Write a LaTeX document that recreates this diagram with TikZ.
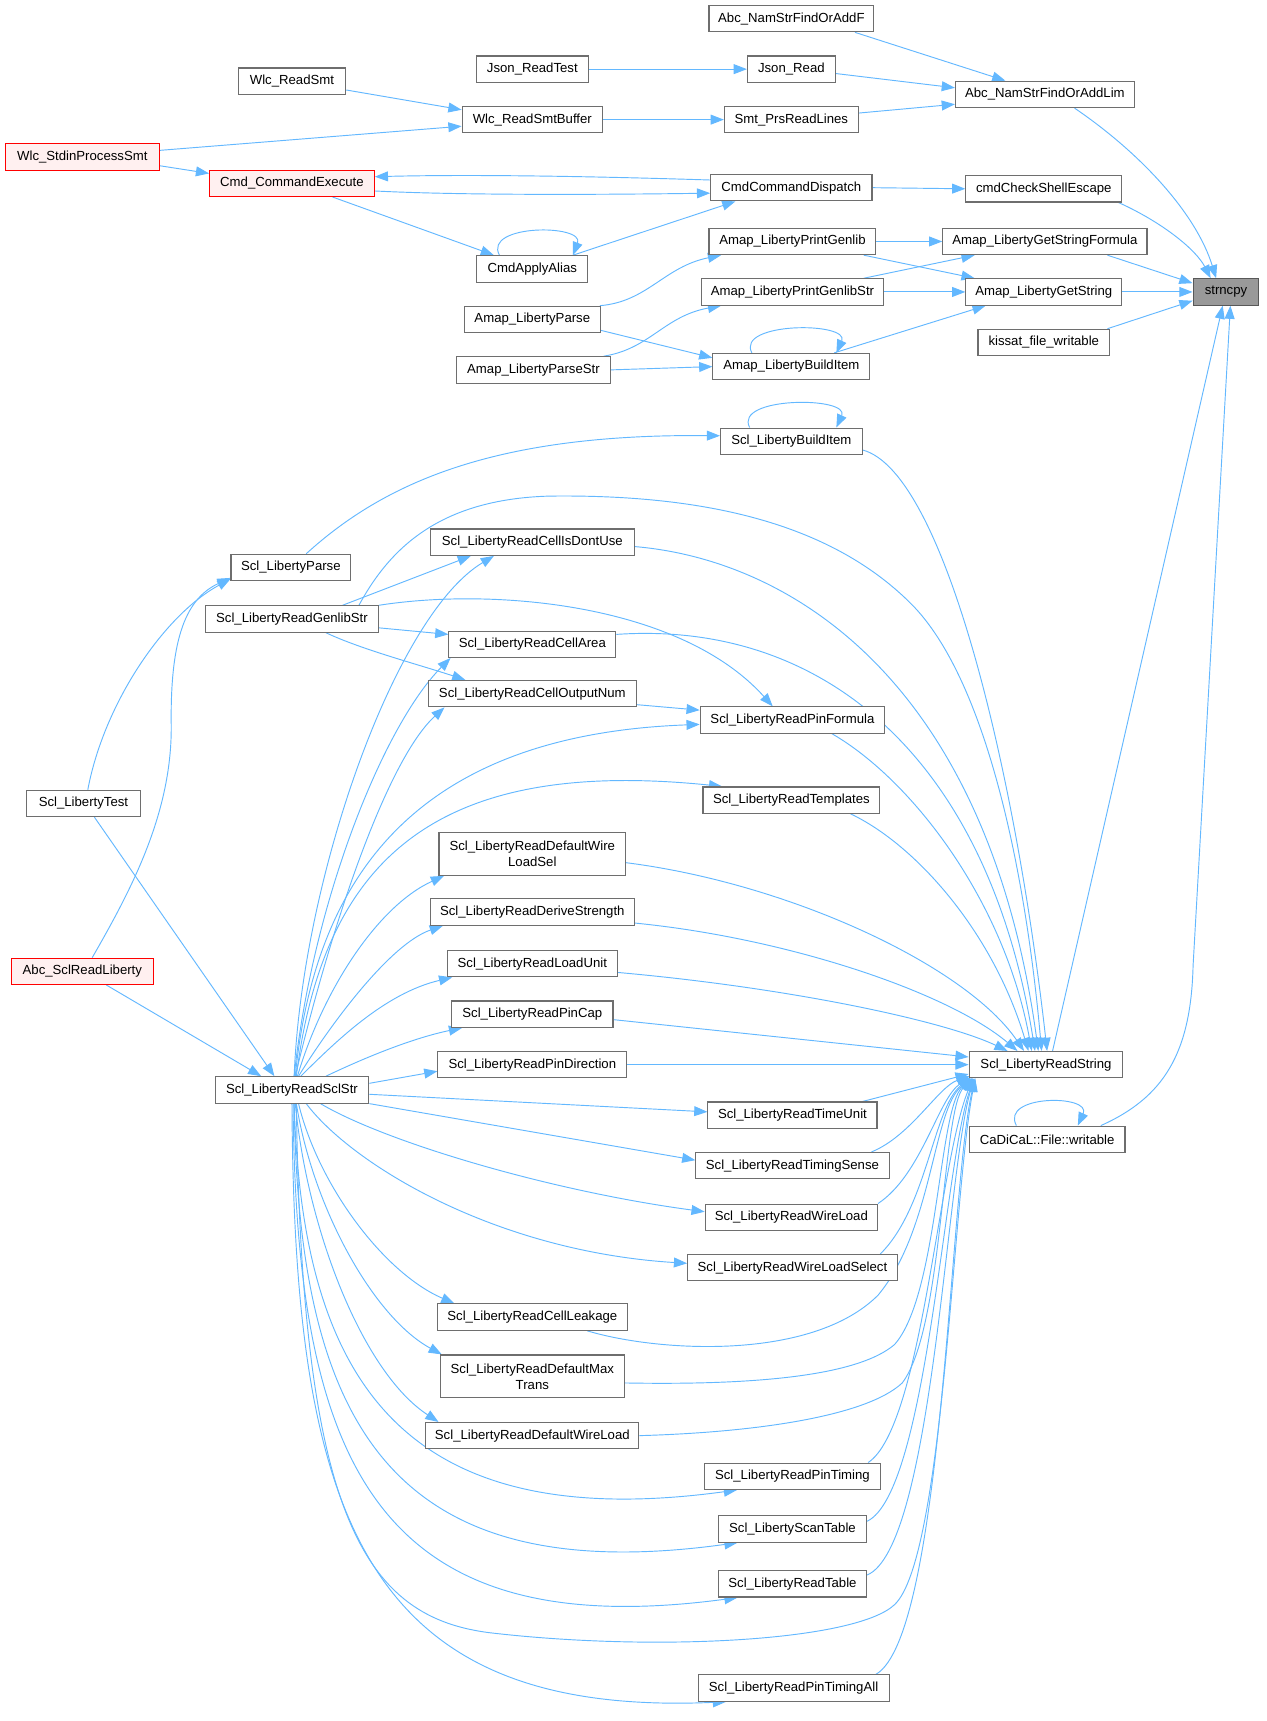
\documentclass[tikz,border=0pt]{standalone}
\usepackage{fontspec}
\setmainfont{Liberation Sans}
\usetikzlibrary{arrows.meta}
\definecolor{edgeblue}{HTML}{63B8FF}
\definecolor{boxgray}{HTML}{6E6E6E}
\definecolor{redfill}{HTML}{FFF0F0}
\definecolor{grayfill}{HTML}{999999}
\pgfdeclarelayer{bg}
\pgfdeclarelayer{paper}
\pgfsetlayers{paper,bg,main}
\begin{document}
\begin{tikzpicture}[x=1pt,y=-1pt,
  nd/.style={draw=boxgray,fill=white,line width=1pt,inner sep=0pt,minimum height=24pt,align=center,font=\fontsize{12}{14.5}\selectfont},
  rednd/.style={nd,draw=red,fill=redfill},
  graynd/.style={nd,draw=boxgray!80!black,fill=grayfill},
  tall/.style={minimum height=39pt},
  e/.style={draw=edgeblue,line width=0.85pt,-{Triangle[length=12pt,width=9pt]}}]
\useasboundingbox (0,0) rectangle (1154,1568);
\begin{pgfonlayer}{paper}
\fill[white] (0,0) rectangle (1154,1568);
\end{pgfonlayer}

% ---------- nodes ----------
\node[nd,minimum width=150pt] (nsF) at (721,17) {Abc\_NamStrFindOrAddF};
\node[nd,minimum width=102pt] (jrt) at (485,63) {Json\_ReadTest};
\node[nd,minimum width=80pt] (jr) at (721,63) {Json\_Read};
\node[nd,minimum width=98pt] (wrs) at (266,74) {Wlc\_ReadSmt};
\node[nd,minimum width=163pt] (nsL) at (952,86) {Abc\_NamStrFindOrAddLim};
\node[nd,minimum width=128pt] (wrsb) at (485,109) {Wlc\_ReadSmtBuffer};
\node[nd,minimum width=122pt] (smt) at (721,109) {Smt\_PrsReadLines};
\node[rednd,minimum width=140pt] (wsp) at (75,143) {Wlc\_StdinProcessSmt};
\node[rednd,minimum width=150pt] (cce) at (266,167) {Cmd\_CommandExecute};
\node[nd,minimum width=147pt] (ccd) at (721,171) {CmdCommandDispatch};
\node[nd,minimum width=142pt] (ccse) at (951,172) {cmdCheckShellEscape};
\node[nd,minimum width=152pt] (apg) at (722,220) {Amap\_LibertyPrintGenlib};
\node[nd,minimum width=186pt] (agsf) at (952,220) {Amap\_LibertyGetStringFormula};
\node[nd,minimum width=101pt] (caa) at (485,245) {CmdApplyAlias};
\node[graynd,minimum width=60pt] (strncpy) at (1117,266) {strncpy};
\node[nd,minimum width=166pt] (apgs) at (722,266) {Amap\_LibertyPrintGenlibStr};
\node[nd,minimum width=142pt] (ags) at (951,266) {Amap\_LibertyGetString};
\node[nd,minimum width=124pt] (alp) at (485,291) {Amap\_LibertyParse};
\node[nd,minimum width=120pt] (kfw) at (951,312) {kissat\_file\_writable};
\node[nd,minimum width=143pt] (abi) at (721,334) {Amap\_LibertyBuildItem};
\node[nd,minimum width=140pt] (alps) at (486,337) {Amap\_LibertyParseStr};
\node[nd,minimum width=129pt] (sbi) at (721,402) {Scl\_LibertyBuildItem};
\node[nd,minimum width=186pt] (sdu) at (485,494) {Scl\_LibertyReadCellIsDontUse};
\node[nd,minimum width=109pt] (spa) at (265,517) {Scl\_LibertyParse};
\node[nd,minimum width=157pt] (sgs) at (266,564) {Scl\_LibertyReadGenlibStr};
\node[nd,minimum width=152pt] (sca) at (485,587) {Scl\_LibertyReadCellArea};
\node[nd,minimum width=189pt] (son) at (485,632) {Scl\_LibertyReadCellOutputNum};
\node[nd,minimum width=168pt] (spf) at (722,656) {Scl\_LibertyReadPinFormula};
\node[nd,minimum width=161pt] (stp) at (721,729) {Scl\_LibertyReadTemplates};
\node[nd,minimum width=104pt] (stest) at (76,732) {Scl\_LibertyTest};
\node[nd,tall,minimum width=170pt] (sdwls) at (485,778) {Scl\_LibertyReadDefaultWire\\LoadSel};
\node[nd,minimum width=186pt] (sds) at (485,831) {Scl\_LibertyReadDeriveStrength};
\node[nd,minimum width=155pt] (slu) at (485,878) {Scl\_LibertyReadLoadUnit};
\node[nd,minimum width=147pt] (spc) at (485,924) {Scl\_LibertyReadPinCap};
\node[nd,minimum width=172pt] (spd) at (485,970) {Scl\_LibertyReadPinDirection};
\node[rednd,minimum width=129pt] (asrl) at (75,885) {Abc\_SclReadLiberty};
\node[nd,minimum width=140pt] (sss) at (266,993) {Scl\_LibertyReadSclStr};
\node[nd,minimum width=140pt] (srs) at (953,970) {Scl\_LibertyReadString};
\node[nd,minimum width=154pt] (stu) at (722,1016) {Scl\_LibertyReadTimeUnit};
\node[nd,minimum width=142pt] (cfw) at (954,1038) {CaDiCaL::File::writable};
\node[nd,minimum width=176pt] (sts) at (722,1062) {Scl\_LibertyReadTimingSense};
\node[nd,minimum width=157pt] (swl) at (721,1109) {Scl\_LibertyReadWireLoad};
\node[nd,minimum width=191pt] (swls) at (722,1155) {Scl\_LibertyReadWireLoadSelect};
\node[nd,minimum width=173pt] (scl) at (485,1200) {Scl\_LibertyReadCellLeakage};
\node[nd,tall,minimum width=168pt] (sdmt) at (485,1254) {Scl\_LibertyReadDefaultMax\\Trans};
\node[nd,minimum width=194pt] (sdwl) at (485,1308) {Scl\_LibertyReadDefaultWireLoad};
\node[nd,minimum width=160pt] (spt) at (722,1345) {Scl\_LibertyReadPinTiming};
\node[nd,minimum width=135pt] (sst) at (722,1393) {Scl\_LibertyScanTable};
\node[nd,minimum width=135pt] (srt) at (722,1443) {Scl\_LibertyReadTable};
\node[nd,minimum width=174pt] (spta) at (723,1538) {Scl\_LibertyReadPinTimingAll};

% ---------- edges ----------
\begin{pgfonlayer}{bg}
% top block
\draw[e] ([xshift=58pt]nsF.south) -- ([xshift=-36pt]nsL.north);
\draw[e] (jrt.east) -- (jr.west);
\draw[e] ([yshift=-4pt]jr.east) -- ([yshift=6pt]nsL.west);
\draw[e] ([yshift=-8pt]wrs.east) -- ([yshift=9pt]wrsb.west);
\draw[e] ([yshift=6pt]wsp.east) -- ([yshift=-6pt]wrsb.west);
\draw[e] (wrsb.east) -- (smt.west);
\draw[e] ([yshift=6pt]smt.east) -- ([yshift=-9pt]nsL.west);
\draw[e] ([xshift=27pt]nsL.south) .. controls (1040,140) and (1090,195) .. ([xshift=-9pt]strncpy.north);
\draw[e] ([yshift=-8pt]wsp.east) -- ([yshift=9pt]cce.west);
\draw[e] ([yshift=7pt]ccd.west) .. controls (520,160) and (420,159) .. ([yshift=6pt]cce.east);
\draw[e] ([yshift=-7pt]cce.east) .. controls (400,177) and (500,178) .. ([yshift=-5pt]ccd.west);
\draw[e] ([xshift=37pt]cce.south) -- ([xshift=-35pt]caa.north);
\draw[e] ([xshift=37pt]caa.north) -- ([xshift=-51pt]ccd.south);
\draw[e] ([xshift=-30pt]caa.north) .. controls (440,204) and (533,204) .. ([xshift=37pt]caa.north);
\draw[e] (ccd.east) -- (ccse.west);
\draw[e] ([xshift=68pt]ccse.south) .. controls (1060,203) and (1090,228) .. ([xshift=-14pt]strncpy.north);
\draw[e] (apg.east) -- (agsf.west);
\draw[e] ([xshift=65pt]apg.south) -- ([xshift=-63pt]ags.north);
\draw[e] ([xshift=65pt]apgs.north) -- ([xshift=-64pt]agsf.south);
\draw[e] (apgs.east) -- (ags.west);
\draw[e] ([xshift=57pt]agsf.south) -- ([yshift=8pt]strncpy.west);
\draw[e] (ags.east) -- (strncpy.west);
\draw[e] ([xshift=58pt]kfw.north) -- ([yshift=-8pt]strncpy.west);
\draw[e] ([xshift=-1pt]alp.north east) .. controls (590,275) and (605,243) .. ([xshift=-65pt]apg.south);
\draw[e] ([yshift=-10pt]alp.east) -- ([yshift=8pt]abi.west);
\draw[e] ([xshift=64pt]alps.north) .. controls (592,318) and (605,288) .. ([xshift=-65pt]apgs.south);
\draw[e] (alps.east) -- (abi.west);
\draw[e] ([xshift=39pt]abi.north) -- ([xshift=-53pt]ags.south);
\draw[e] ([xshift=-36pt]abi.north) .. controls (670,293) and (775,293) .. ([xshift=41pt]abi.north);
% into strncpy from below
\draw[e] ([xshift=6pt]srs.north) -- ([xshift=-3pt]strncpy.south);
\draw[e] ([xshift=49pt]cfw.north) .. controls (1060,1000) and (1085,960) .. (1087,880) -- ([xshift=4pt]strncpy.south);
\draw[e] ([xshift=-28pt]cfw.north) .. controls (911,997) and (995,997) .. ([xshift=28pt]cfw.north);
% Scl build item
\draw[e] ([xshift=-38pt]sbi.north) .. controls (668,361) and (775,361) .. ([xshift=41pt]sbi.north);
\draw[e] ([yshift=-8pt]sbi.east) .. controls (860,430) and (925,700) .. ([xshift=1pt]srs.north);
\draw[e] ([xshift=14pt]spa.north) .. controls (350,440) and (450,395) .. ([yshift=5pt]sbi.west);
% left callers
\draw[e] ([xshift=4pt]stest.north) .. controls (95,640) and (150,560) .. ([yshift=2pt]spa.south west);
\draw[e] ([xshift=9pt]asrl.north) .. controls (120,810) and (157,740) .. (156,660) .. controls (155,580) and (170,545) .. ([yshift=3pt]spa.south west);
\draw[e] ([xshift=10pt]stest.south) -- ([xshift=-16pt]sss.north);
\draw[e] ([xshift=22pt]asrl.south) -- ([xshift=-28pt]sss.north);
% GenlibStr
\draw[e] ([xshift=46pt]sgs.north) -- ([xshift=-56pt]sdu.south);
\draw[e] ([yshift=-8pt]sgs.east) -- ([yshift=9pt]sca.west);
\draw[e] ([xshift=31pt]sgs.south) .. controls (330,592) and (380,605) .. ([xshift=-61pt]son.north);
\draw[e] (sgs.north east) .. controls (450,535) and (620,550) .. ([xshift=-18pt]spf.north);
\draw[e] ([xshift=61pt]sgs.north) .. controls (355,500) and (400,455) .. (500,452) .. controls (650,450) and (760,480) .. (830,550) .. controls (900,620) and (935,800) .. ([xshift=-4pt]srs.north);
\draw[e] ([yshift=-10pt]son.east) -- ([yshift=9pt]spf.west);
% middle column into ReadString (top)
\draw[e] ([yshift=-4pt]sdu.east) .. controls (720,510) and (900,620) .. ([xshift=-7pt]srs.north);
\draw[e] ([yshift=9pt]sca.east) .. controls (750,565) and (900,690) .. ([xshift=-10pt]srs.north);
\draw[e] ([xshift=36pt]spf.south) .. controls (830,710) and (915,820) .. ([xshift=-13pt]srs.north);
\draw[e] ([xshift=54pt]stp.south) .. controls (835,770) and (905,850) .. ([xshift=-16pt]srs.north);
\draw[e] ([yshift=-8pt]sdwls.east) .. controls (720,805) and (880,880) .. ([xshift=-20pt]srs.north);
\draw[e] ([yshift=-10pt]sds.east) .. controls (720,855) and (865,905) .. ([xshift=-26pt]srs.north);
\draw[e] ([yshift=-8pt]slu.east) .. controls (720,900) and (860,930) .. ([xshift=-35pt]srs.north);
\draw[e] ([yshift=-5pt]spc.east) -- ([yshift=7pt]srs.west);
\draw[e] (spd.east) -- (srs.west);
% lower column into ReadString (bottom-left corner)
\draw[e] ([xshift=64pt]stu.north) -- ([yshift=4pt]srs.south west);
\draw[e] ([xshift=72pt]sts.north) .. controls (830,1035) and (855,990) .. ([xshift=1pt,yshift=2pt]srs.south west);
\draw[e] (swl.north east) .. controls (840,1070) and (855,1000) .. ([xshift=2pt,yshift=1pt]srs.south west);
\draw[e] ([xshift=80pt]swls.north) .. controls (845,1100) and (850,1010) .. ([xshift=2pt,yshift=1pt]srs.south west);
\draw[e] ([xshift=50pt]scl.south) .. controls (600,1232) and (740,1240) .. (800,1180) .. controls (850,1120) and (850,1010) .. ([xshift=3pt]srs.south west);
\draw[e] ([yshift=-6pt]sdmt.east) .. controls (680,1262) and (780,1255) .. (815,1225) .. controls (855,1180) and (855,1010) .. ([xshift=3pt]srs.south west);
\draw[e] (sdwl.east) .. controls (690,1305) and (790,1290) .. (822,1260) .. controls (860,1210) and (858,1010) .. ([xshift=4pt]srs.south west);
\draw[e] ([xshift=69pt]spt.north) .. controls (840,1300) and (855,1060) .. ([xshift=4pt]srs.south west);
\draw[e] ([yshift=7pt]sst.east) .. controls (845,1360) and (860,1060) .. ([xshift=5pt]srs.south west);
\draw[e] ([yshift=8pt]srt.east) .. controls (850,1410) and (862,1070) .. ([xshift=5pt]srs.south west);
\draw[e] ([xshift=75pt]spta.north) .. controls (860,1490) and (865,1080) .. ([xshift=6pt]srs.south west);
\draw[e] ([xshift=4pt]sss.south) .. controls (275,1380) and (330,1475) .. (450,1488) .. controls (600,1505) and (780,1495) .. (815,1462) .. controls (860,1420) and (868,1090) .. ([xshift=6pt]srs.south west);
% ReadSclStr fan (upwards)
\draw[e] ([xshift=2pt]sss.north) .. controls (275,800) and (360,560) .. ([xshift=-35pt]sdu.south);
\draw[e] ([xshift=2pt]sss.north) .. controls (285,820) and (350,660) .. ([xshift=2pt]sca.south west);
\draw[e] ([xshift=3pt]sss.north) .. controls (305,830) and (355,690) .. ([xshift=15pt]son.south west);
\draw[e] ([xshift=3pt]sss.north) .. controls (285,820) and (360,670) .. ([yshift=-4pt]spf.west);
\draw[e] ([xshift=4pt]sss.north) .. controls (295,780) and (400,690) .. ([xshift=-63pt]stp.north);
\draw[e] ([xshift=5pt]sss.north) .. controls (295,900) and (345,825) .. ([xshift=5pt]sdwls.south west);
\draw[e] ([xshift=6pt]sss.north) .. controls (300,935) and (355,860) .. ([xshift=12pt]sds.south west);
\draw[e] ([xshift=8pt]sss.north) .. controls (305,950) and (350,905) .. ([xshift=5pt]slu.south west);
\draw[e] ([xshift=31pt]sss.north) .. controls (340,960) and (380,945) .. ([xshift=10pt]spc.south west);
\draw[e] ([yshift=6pt]sss.east) -- ([yshift=-6pt]spd.west);
\draw[e] ([yshift=-4pt]sss.east) -- ([yshift=3pt]stu.west);
\draw[e] (sss.south east) -- ([yshift=5pt]sts.west);
% ReadSclStr fan (downwards)
\draw[e] ([xshift=26pt]sss.south) .. controls (350,1040) and (500,1085) .. ([yshift=5pt]swl.west);
\draw[e] ([xshift=13pt]sss.south) .. controls (320,1060) and (450,1140) .. ([yshift=4pt]swls.west);
\draw[e] ([xshift=6pt]sss.south) .. controls (290,1080) and (350,1160) .. ([xshift=16pt]scl.north west);
\draw[e] ([xshift=4pt]sss.south) .. controls (285,1100) and (340,1200) .. ([xshift=2pt]sdmt.north west);
\draw[e] ([xshift=3pt]sss.south) .. controls (280,1120) and (330,1250) .. ([xshift=12pt]sdwl.north west);
\draw[e] ([xshift=2pt]sss.south) .. controls (275,1250) and (360,1400) .. ([xshift=30pt]spt.south west);
\draw[e] ([xshift=2pt]sss.south) .. controls (272,1290) and (350,1450) .. ([xshift=18pt]sst.south west);
\draw[e] ([xshift=1pt]sss.south) .. controls (270,1330) and (340,1500) .. ([xshift=18pt]srt.south west);
\draw[e] (sss.south) .. controls (268,1380) and (330,1565) .. ([xshift=26pt]spta.south west);
\end{pgfonlayer}
\end{tikzpicture}
\end{document}
